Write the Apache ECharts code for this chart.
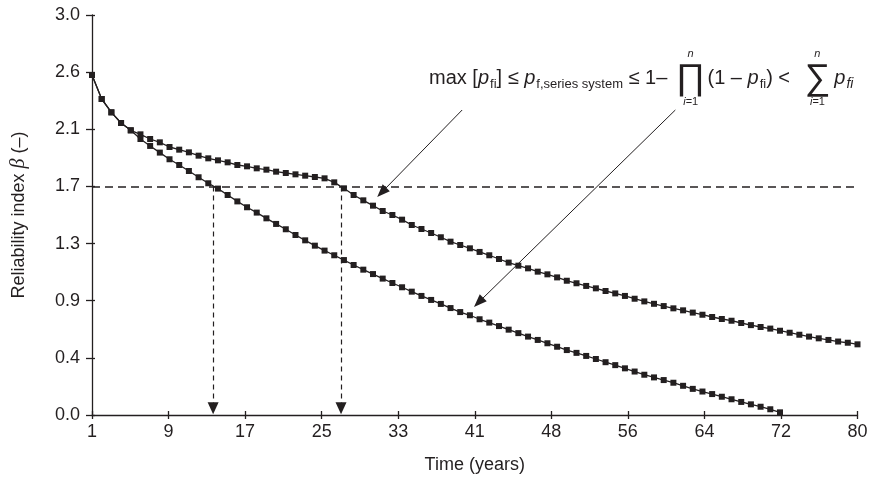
<!DOCTYPE html>
<html>
<head>
<meta charset="utf-8">
<script src="https://cdn.jsdelivr.net/npm/echarts@6/dist/echarts.min.js"></script>
<style>
  html, body { margin: 0; padding: 0; background: #fff; }
  #chart { width: 872px; height: 480px; }
</style>
</head>
<body>
<div id="chart"></div>
<script>
// Reliability index over service life, one value per year starting at year 1
const startYear = 1;

// Upper curve (years 1–80)
const betaUpper = [
  2.55, 2.37, 2.27, 2.19, 2.135, 2.105, 2.07, 2.045, 2.01, 1.99,
  1.97, 1.945, 1.925, 1.91, 1.895, 1.875, 1.865, 1.85, 1.84, 1.825,
  1.815, 1.805, 1.795, 1.785, 1.775, 1.745, 1.70, 1.65, 1.61, 1.57,
  1.53, 1.50, 1.465, 1.425, 1.395, 1.365, 1.333, 1.30, 1.275, 1.25,
  1.223, 1.198, 1.17, 1.143, 1.12, 1.10, 1.075, 1.055, 1.032, 1.007,
  0.988, 0.968, 0.95, 0.93, 0.912, 0.893, 0.872, 0.852, 0.834, 0.817,
  0.80, 0.785, 0.768, 0.752, 0.735, 0.72, 0.707, 0.69, 0.674, 0.66,
  0.648, 0.632, 0.617, 0.602, 0.588, 0.575, 0.563, 0.551, 0.542, 0.53
];

// Lower curve (years 1–72)
const betaLower = [
  2.55, 2.37, 2.27, 2.19, 2.135, 2.07, 2.018, 1.968, 1.918, 1.875,
  1.83, 1.783, 1.738, 1.698, 1.65, 1.602, 1.558, 1.518, 1.475, 1.433,
  1.393, 1.35, 1.31, 1.27, 1.233, 1.198, 1.162, 1.125, 1.09, 1.057,
  1.023, 0.99, 0.958, 0.925, 0.893, 0.863, 0.833, 0.802, 0.772, 0.748,
  0.718, 0.693, 0.667, 0.64, 0.614, 0.588, 0.563, 0.538, 0.512, 0.487,
  0.466, 0.443, 0.42, 0.396, 0.374, 0.35, 0.326, 0.302, 0.282, 0.262,
  0.242, 0.219, 0.196, 0.176, 0.157, 0.137, 0.118, 0.098, 0.08, 0.062,
  0.043, 0.02
];

// Axis ticks and their printed labels
const xTicks = [1, 8.9, 16.8, 24.7, 32.6, 40.5, 48.4, 56.3, 64.2, 72.1, 80];
const xTickLabels = ['1', '9', '17', '25', '33', '41', '48', '56', '64', '72', '80'];
const yTicks = [0, 0.4286, 0.8571, 1.2857, 1.7143, 2.1429, 2.5714, 3.0];
const yTickLabels = ['0.0', '0.4', '0.9', '1.3', '1.7', '2.1', '2.6', '3.0'];

// Target reliability and the years at which each curve reaches it
const targetBeta = 1.7143;
const crossingYears = [13.5, 26.7];

const FONT = '"Liberation Sans", Arial, Helvetica, sans-serif';
const INK = '#231f20';
const LABEL_SIZE = 18;

function labelFor(ticks, labels) {
  return function (value) {
    let best = 0;
    for (let i = 1; i < ticks.length; i++) {
      if (Math.abs(ticks[i] - value) < Math.abs(ticks[best] - value)) best = i;
    }
    return labels[best];
  };
}

const toPoints = arr => arr.map((v, i) => [startYear + i, v]);

// ---- bound formula, laid out piece by piece from measured widths ----
const measureCtx = document.createElement('canvas').getContext('2d');
function textWidth(str, size, italic) {
  measureCtx.font = (italic ? 'italic ' : '') + size + 'px ' + FONT;
  return measureCtx.measureText(str).width;
}

const MAIN = 20, SUB = 13, BIG = 36, LIMIT = 11;
const formulaPieces = [
  { t: 'max [', size: MAIN },
  { t: 'p', size: MAIN, italic: true },
  { t: 'fi', size: SUB, sub: true },
  { t: '] ≤ ', size: MAIN },
  { t: 'p', size: MAIN, italic: true },
  { t: 'f,series system', size: SUB, sub: true },
  { t: ' ≤ 1– ', size: MAIN },
  { op: '∏', size: BIG, pad: [3, 2] },
  { t: '(1 – ', size: MAIN },
  { t: 'p', size: MAIN, italic: true },
  { t: 'fi', size: SUB, sub: true },
  { t: ') < ', size: MAIN },
  { op: '∑', size: BIG, pad: [9, 4] },
  { t: 'p', size: MAIN, italic: true },
  { t: 'fi', size: SUB + 1, sub: true, italic: true }
];

function buildFormula(leftEdge, midY) {
  const widths = formulaPieces.map(p => {
    if (p.op) return p.pad[0] + textWidth(p.op, p.size, false) + p.pad[1];
    return textWidth(p.t, p.size, p.italic) + (p.sub ? 1 : 0);
  });
  let x = leftEdge;
  const els = [];
  formulaPieces.forEach((p, i) => {
    if (p.op) {
      const cx = x + p.pad[0] + textWidth(p.op, p.size, false) / 2;
      els.push({ type: 'text', x: cx, y: midY + 1, silent: true,
        style: { text: p.op, fontFamily: FONT, fontSize: p.size, fill: INK, align: 'center', verticalAlign: 'middle' } });
      els.push({ type: 'text', x: cx, y: midY - 24, silent: true,
        style: { text: 'n', fontFamily: FONT, fontStyle: 'italic', fontSize: LIMIT, fill: INK, align: 'center', verticalAlign: 'middle' } });
      els.push({ type: 'text', x: cx, y: midY + 24, silent: true,
        style: { text: '{i|i}=1', fontFamily: FONT, fontSize: LIMIT, fill: INK, align: 'center', verticalAlign: 'middle',
          rich: { i: { fontFamily: FONT, fontStyle: 'italic', fontSize: LIMIT, color: INK } } } });
    } else {
      els.push({ type: 'text', x: x + (p.sub ? 1 : 0), y: p.sub ? midY + 6 : midY, silent: true,
        style: { text: p.t, fontFamily: FONT, fontSize: p.size, fontStyle: p.italic ? 'italic' : 'normal',
          fill: INK, align: 'left', verticalAlign: 'middle' } });
    }
    x += widths[i];
  });
  return els;
}

const chart = echarts.init(document.getElementById('chart'), null, { renderer: 'canvas' });

const xMin = xTicks[0], xMax = xTicks[xTicks.length - 1];
const yMin = yTicks[0], yMax = yTicks[yTicks.length - 1];

const option = {
  animation: false,
  backgroundColor: '#ffffff',
  grid: { left: 92, right: 14.5, top: 15, bottom: 65, containLabel: false },
  xAxis: [
    {
      type: 'value', min: xMin, max: xMax, position: 'bottom',
      name: 'Time (years)', nameLocation: 'middle', nameGap: 41,
      nameTextStyle: { fontFamily: FONT, fontSize: LABEL_SIZE, color: INK },
      axisLine: { show: true, lineStyle: { color: INK, width: 1.3 } },
      axisTick: { show: true, inside: false, length: 4, customValues: xTicks, lineStyle: { color: INK, width: 1.3 } },
      axisLabel: { show: true, customValues: xTicks, margin: 8, fontFamily: FONT, fontSize: LABEL_SIZE, color: INK, formatter: labelFor(xTicks, xTickLabels) },
      splitLine: { show: false }
    },
    {
      type: 'value', min: xMin, max: xMax, position: 'bottom',
      axisLine: { show: false },
      axisTick: { show: true, inside: true, length: 4, customValues: xTicks, lineStyle: { color: INK, width: 1.3 } },
      axisLabel: { show: false },
      splitLine: { show: false }
    }
  ],
  yAxis: [
    {
      type: 'value', min: yMin, max: yMax, position: 'left',
      name: 'Reliability index {b|β} (–)', nameLocation: 'middle', nameRotate: 90, nameGap: 63,
      nameTextStyle: {
        fontFamily: FONT, fontSize: LABEL_SIZE, color: INK,
        rich: { b: { fontFamily: '"Liberation Serif", "DejaVu Serif", serif', fontStyle: 'italic', fontSize: LABEL_SIZE + 2, color: INK } }
      },
      axisLine: { show: true, lineStyle: { color: INK, width: 1.3 } },
      axisTick: { show: true, inside: false, length: 6, customValues: yTicks, lineStyle: { color: INK, width: 1.3 } },
      axisLabel: { show: true, customValues: yTicks, margin: 12, fontFamily: FONT, fontSize: LABEL_SIZE, color: INK, formatter: labelFor(yTicks, yTickLabels) },
      splitLine: { show: false }
    },
    {
      type: 'value', min: yMin, max: yMax, position: 'left',
      axisLine: { show: false },
      axisTick: { show: true, inside: true, length: 3, customValues: yTicks, lineStyle: { color: INK, width: 1.3 } },
      axisLabel: { show: false },
      splitLine: { show: false }
    }
  ],
  series: [
    {
      type: 'line', name: 'upper', xAxisIndex: 0, yAxisIndex: 0,
      data: toPoints(betaUpper),
      symbol: 'rect', symbolSize: 6, showAllSymbol: true,
      itemStyle: { color: INK },
      lineStyle: { color: INK, width: 1.3 },
      z: 4
    },
    {
      type: 'line', name: 'lower', xAxisIndex: 0, yAxisIndex: 0,
      data: toPoints(betaLower),
      symbol: 'rect', symbolSize: 6, showAllSymbol: true,
      itemStyle: { color: INK },
      lineStyle: { color: INK, width: 1.3 },
      z: 4
    },
    {
      // target level, crossing arrows and annotation pointers
      type: 'line', name: 'guides', xAxisIndex: 0, yAxisIndex: 0,
      data: [], silent: true, z: 3,
      markLine: {
        silent: true, animation: false,
        label: { show: false },
        symbol: ['none', 'none'],
        data: [
          [
            { coord: [xMin, targetBeta], lineStyle: { color: INK, width: 1.5, type: [8, 5] } },
            { coord: [xMax, targetBeta] }
          ],
          [
            { coord: [crossingYears[0], targetBeta], symbol: 'none', lineStyle: { color: INK, width: 1.2, type: [5, 4] } },
            { coord: [crossingYears[0], 0.05], symbol: 'triangle', symbolSize: [11, 12] }
          ],
          [
            { coord: [crossingYears[1], targetBeta], symbol: 'none', lineStyle: { color: INK, width: 1.2, type: [5, 4] } },
            { coord: [crossingYears[1], 0.05], symbol: 'triangle', symbolSize: [11, 12] }
          ],
          [
            { coord: [39.2, 2.2875], symbol: 'none', lineStyle: { color: INK, width: 1, type: 'solid' } },
            { coord: [30.9, 1.67], symbol: 'triangle', symbolSize: [10, 13] }
          ],
          [
            { coord: [61.2, 2.2875], symbol: 'none', lineStyle: { color: INK, width: 1, type: 'solid' } },
            { coord: [40.9, 0.845], symbol: 'triangle', symbolSize: [10, 13] }
          ]
        ]
      }
    }
  ],
  graphic: buildFormula(429, 78)
};

chart.setOption(option);
</script>
</body>
</html>
